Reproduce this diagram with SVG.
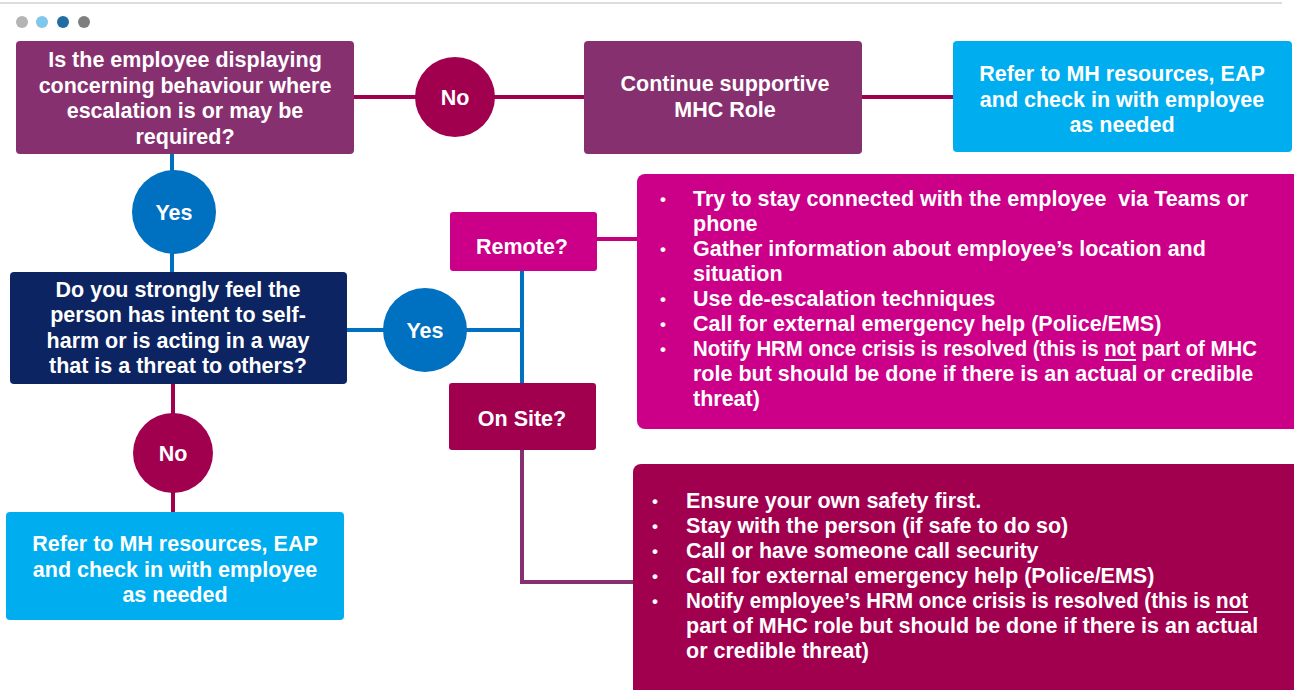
<svg xmlns="http://www.w3.org/2000/svg" width="1294" height="690" viewBox="0 0 1294 690">
<style>
text{font-family:"Liberation Sans",Arial,sans-serif;font-weight:bold;fill:#fff;font-size:21.5px}
.c{text-anchor:middle}
.b{font-size:21.5px}
.dot{font-size:17px}
.conn{fill:none;stroke-width:4}
.ul{stroke:#fff;stroke-width:2}
.purple{fill:#87306f}
.crim{fill:#a1004f}
.mag{fill:#cc0088}
.navy{fill:#0c2461}
.sky{fill:#00aeef}
.blue{fill:#0070c0}
</style>
<rect width="1294" height="690" fill="#fff"/>
<line x1="0" y1="3" x2="1282" y2="3" stroke="#dcdcdc" stroke-width="2"/>
<g id="pager">
<circle cx="22" cy="22" r="6" fill="#b4b4b4"/>
<circle cx="42" cy="22" r="6" fill="#7fc7eb"/>
<circle cx="63" cy="22" r="6" fill="#1f6da3"/>
<circle cx="84" cy="22" r="6" fill="#7f7f7f"/>
</g>
<g id="connectors">
<path class="conn" stroke="#a1004f" d="M354 97H584M862 97H953"/>
<path class="conn" stroke="#0070c0" d="M172 154V272"/>
<path class="conn" stroke="#0070c0" d="M347 330H522M522 271V383"/>
<path class="conn" stroke="#a1004f" d="M173 384V512"/>
<path class="conn" stroke="#c4007f" d="M597 239H637"/>
<path class="conn" stroke="#87306f" d="M522 450V582H634"/>
</g>
<g id="q1">
<rect class="purple" x="16" y="41" width="338" height="113" rx="4"/>
<text class="c" x="185" y="67">Is the employee displaying</text>
<text class="c" x="185" y="92.5">concerning behaviour where</text>
<text class="c" x="185" y="118">escalation is or may be</text>
<text class="c" x="185" y="143.5">required?</text>
</g>
<g id="no1">
<circle class="crim" cx="455" cy="97" r="40"/>
<text class="c" x="455" y="104.5">No</text>
</g>
<g id="continue">
<rect class="purple" x="584" y="41" width="278" height="113" rx="4"/>
<text class="c" x="725" y="91">Continue supportive</text>
<text class="c" x="725" y="117">MHC Role</text>
</g>
<g id="refer1">
<rect class="sky" x="953" y="41" width="339" height="111" rx="4"/>
<text class="c" x="1122" y="81">Refer to MH resources, EAP</text>
<text class="c" x="1122" y="107">and check in with employee</text>
<text class="c" x="1122" y="132">as needed</text>
</g>
<g id="yes1">
<circle class="blue" cx="174" cy="212" r="42"/>
<text class="c" x="174" y="219.5">Yes</text>
</g>
<g id="q2">
<rect class="navy" x="10" y="272" width="337" height="112" rx="4"/>
<text class="c" x="178" y="297">Do you strongly feel the</text>
<text class="c" x="178" y="322">person has intent to self-</text>
<text class="c" x="178" y="347.5">harm or is acting in a way</text>
<text class="c" x="178" y="373">that is a threat to others?</text>
</g>
<g id="yes2">
<circle class="blue" cx="425" cy="330" r="42"/>
<text class="c" x="425" y="337.5">Yes</text>
</g>
<g id="no2">
<circle class="crim" cx="173" cy="453" r="40"/>
<text class="c" x="173" y="460.5">No</text>
</g>
<g id="refer2">
<rect class="sky" x="6" y="512" width="338" height="108" rx="4"/>
<text class="c" x="175" y="551">Refer to MH resources, EAP</text>
<text class="c" x="175" y="577">and check in with employee</text>
<text class="c" x="175" y="602">as needed</text>
</g>
<g id="remote">
<rect class="mag" x="450" y="212" width="147" height="59" rx="3"/>
<text class="c" x="522" y="253.5">Remote?</text>
</g>
<g id="onsite">
<rect class="crim" x="449" y="383" width="147" height="67" rx="3"/>
<text class="c" x="522" y="425.5">On Site?</text>
</g>
<g id="remote-actions">
<rect class="mag" x="637" y="174" width="665" height="255" rx="8"/>
<text class="dot" x="660" y="205">•</text>
<text class="dot" x="660" y="255">•</text>
<text class="dot" x="660" y="305">•</text>
<text class="dot" x="660" y="330">•</text>
<text class="dot" x="660" y="355">•</text>
<text class="b" x="693" y="206" xml:space="preserve">Try to stay connected with the employee  via Teams or</text>
<text class="b" x="693" y="231">phone</text>
<text class="b" x="693" y="256">Gather information about employee’s location and</text>
<text class="b" x="693" y="281">situation</text>
<text class="b" x="693" y="306">Use de-escalation techniques</text>
<text class="b" x="693" y="331">Call for external emergency help (Police/EMS)</text>
<text class="b" x="693" y="356" textLength="564" lengthAdjust="spacingAndGlyphs">Notify HRM once crisis is resolved (this is not part of MHC</text>
<line class="ul" x1="1104" y1="360" x2="1136" y2="360"/>
<text class="b" x="693" y="381">role but should be done if there is an actual or credible</text>
<text class="b" x="693" y="406">threat)</text>
</g>
<g id="onsite-actions">
<rect class="crim" x="633" y="464" width="669" height="240" rx="8"/>
<text class="dot" x="652" y="507">•</text>
<text class="dot" x="652" y="532">•</text>
<text class="dot" x="652" y="557">•</text>
<text class="dot" x="652" y="582">•</text>
<text class="dot" x="652" y="607">•</text>
<text class="b" x="686" y="508">Ensure your own safety first.</text>
<text class="b" x="686" y="533">Stay with the person (if safe to do so)</text>
<text class="b" x="686" y="558">Call or have someone call security</text>
<text class="b" x="686" y="583">Call for external emergency help (Police/EMS)</text>
<text class="b" x="686" y="608" textLength="562" lengthAdjust="spacingAndGlyphs">Notify employee’s HRM once crisis is resolved (this is not</text>
<line class="ul" x1="1216" y1="612" x2="1248" y2="612"/>
<text class="b" x="686" y="633">part of MHC role but should be done if there is an actual</text>
<text class="b" x="686" y="658">or credible threat)</text>
</g>
</svg>
